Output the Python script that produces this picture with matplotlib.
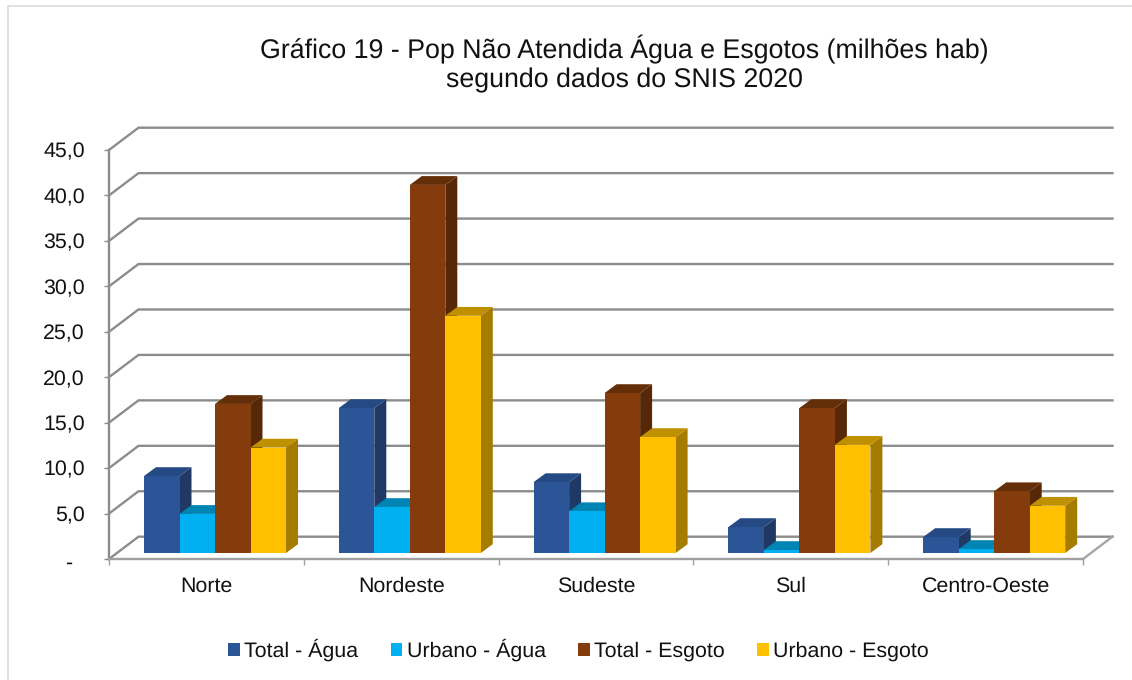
import matplotlib
matplotlib.use("Agg")
import matplotlib.pyplot as plt
from matplotlib.patches import Polygon, Patch
from matplotlib.lines import Line2D
from matplotlib.transforms import ScaledTranslation

plt.rcParams['font.family'] = ['Liberation Sans', 'DejaVu Sans']
plt.rcParams['text.hinting'] = 'none'

categories = ["Norte", "Nordeste", "Sudeste", "Sul", "Centro-Oeste"]
series_names = ["Total - Água", "Urbano - Água", "Total - Esgoto", "Urbano - Esgoto"]
total_agua = [8.47, 15.95, 7.8, 2.86, 1.76]
urbano_agua = [4.3, 5.06, 4.6, 0.33, 0.44]
total_esgoto = [16.4, 40.5, 17.6, 15.95, 6.8]
urbano_esgoto = [11.6, 26.1, 12.76, 11.9, 5.2]
y_ticks = [0, 5, 10, 15, 20, 25, 30, 35, 40, 45]
y_labels = ["-  ", "5,0", "10,0", "15,0", "20,0", "25,0", "30,0", "35,0", "40,0", "45,0"]

series = [total_agua, urbano_agua, total_esgoto, urbano_esgoto]
front = ["#2C5597", "#00B0F0", "#843C0C", "#FFC000"]
top = ["#254A83", "#0084B4", "#642E09", "#BF9000"]
side = ["#1F3864", "#00769F", "#562808", "#A67C00"]

W, H = 1132, 680
L, R, T, B = 109, 1083, 150, 559
fig = plt.figure(figsize=(W / 100, H / 100), dpi=100, facecolor="white")
ax = fig.add_axes([L / W, 1 - B / H, (R - L) / W, (B - T) / H])
ax.set_xlim(0, len(categories))
ax.set_ylim(0, 45)
ax.patch.set_visible(False)

# Outer chart frame, visible only at the top and left of the picture
fig.add_artist(Line2D([8 / W, 8 / W, 1], [0, 1 - 5.5 / H, 1 - 5.5 / H],
                      color="#DEDEDE", lw=1.3, transform=fig.transFigure))

px_x = len(categories) / (R - L)
px_y = 45 / (B - T)
DX, DY = 29.5 * px_x, 22.3 * px_y  # wall depth

grid_c = "#8C8C8C"
for v in y_ticks:
    ax.plot([0, DX, 5 + DX], [v, v + DY, v + DY], color=grid_c, lw=1.7,
            clip_on=False, zorder=1, solid_joinstyle="miter")
ax.plot([5, 5 + DX], [0, DY], color="#A6A6A6", lw=1.7, clip_on=False, zorder=1)

bar_w = 35.5 * px_x
bar_dx, bar_dy = 12 * px_x, 8.8 * px_y
x0_off = (144 - L) * px_x
y0 = 6 * px_y
z = 2
for c in range(len(categories)):
    for s, vals in enumerate(series):
        x = c + x0_off + s * bar_w
        h = y0 + vals[c]
        ax.add_patch(Polygon([(x + bar_w, y0), (x + bar_w + bar_dx, y0 + bar_dy),
                              (x + bar_w + bar_dx, h + bar_dy), (x + bar_w, h)],
                             fc=side[s], ec="none", clip_on=False, zorder=z))
        ax.add_patch(Polygon([(x, h), (x + bar_dx, h + bar_dy),
                              (x + bar_w + bar_dx, h + bar_dy), (x + bar_w, h)],
                             fc=top[s], ec="none", clip_on=False, zorder=z))
        ax.add_patch(Polygon([(x, y0), (x + bar_w, y0), (x + bar_w, h), (x, h)],
                             fc=front[s], ec="none", clip_on=False, zorder=z))
        z += 1

for k in ("top", "right"):
    ax.spines[k].set_visible(False)
for k in ("left", "bottom"):
    ax.spines[k].set_color("#A0A0A0")
    ax.spines[k].set_linewidth(1.7)
ax.spines["left"].set_color(grid_c)

ax.set_yticks(y_ticks)
ax.set_yticklabels(y_labels, fontsize=15.4, color="#111111")
ax.tick_params(axis="y", length=3.5, width=1.0, color=grid_c, pad=14)
dash = ax.get_yticklabels()[0]
dash.set_transform(dash.get_transform() + ScaledTranslation(0, -2 / 100, fig.dpi_scale_trans))
ax.set_xticks(range(len(categories) + 1))
ax.set_xticklabels([])
ax.tick_params(axis="x", length=4, width=1.0, color="#A0A0A0")
ax.set_xticks([i + 0.5 for i in range(len(categories))], minor=True)
ax.set_xticklabels(categories, minor=True, fontsize=15.4, color="#111111")
ax.tick_params(axis="x", which="minor", length=0, pad=12.5)

fig.text(624.5 / W, 1 - 64 / H, "Gráfico 19 - Pop Não Atendida Água e Esgotos (milhões hab)\nsegundo dados do SNIS 2020",
         ha="center", va="center", fontsize=19.25, color="#111111", linespacing=1.2)

handles = [Patch(fc=c, ec="none") for c in front]
fig.legend(handles, series_names, loc="center", bbox_to_anchor=(578.5 / W, 1 - 650 / H),
           ncol=4, frameon=False, fontsize=15.4, handlelength=0.55, handleheight=0.55,
           handletextpad=0.2, columnspacing=1.52, labelcolor="#111111")

fig.savefig("out.png", dpi=100)
